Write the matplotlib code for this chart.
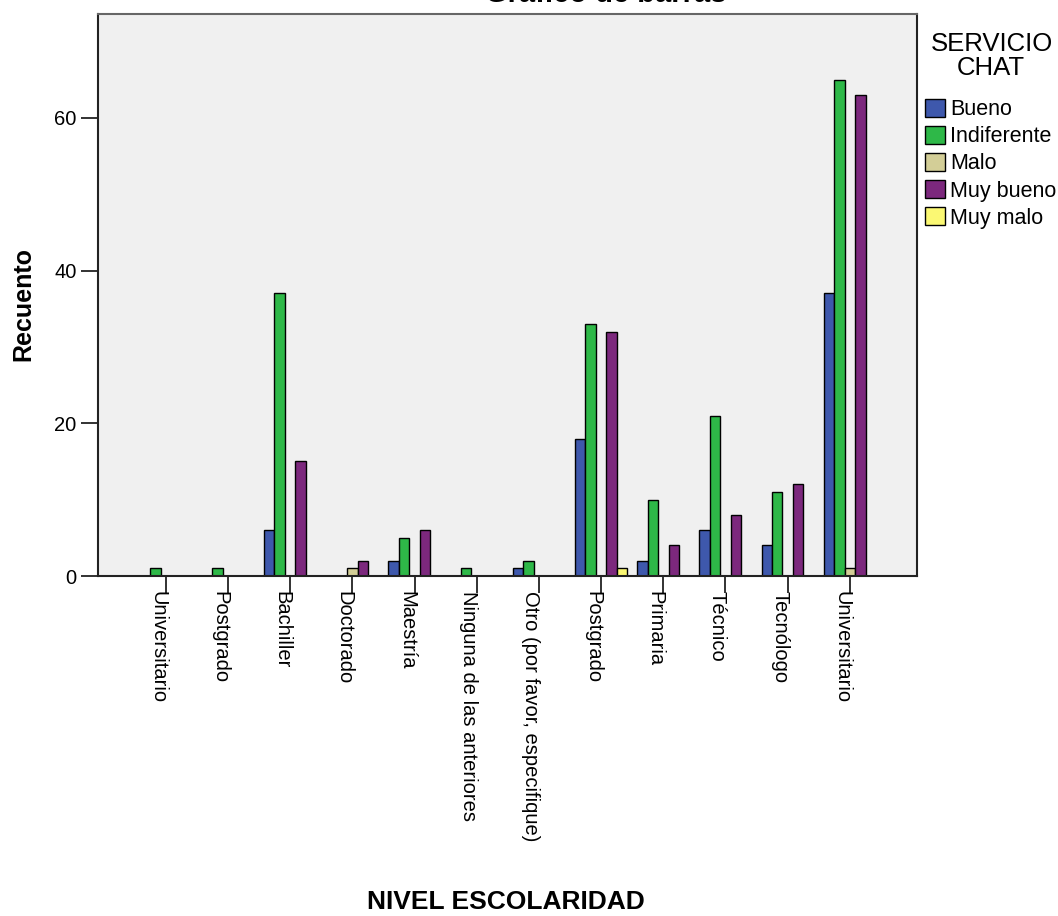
import numpy as np
import matplotlib
matplotlib.use("Agg")
import matplotlib.pyplot as plt
import matplotlib.transforms as mtransforms
from matplotlib.patches import Patch

plt.rcParams['font.family'] = ['Liberation Sans', 'DejaVu Sans']

niveles = ["Universitario", "Postgrado", "Bachiller", "Doctorado", "Maestría",
           "Ninguna de las anteriores", "Otro (por favor, especifique)",
           "Postgrado", "Primaria", "Técnico", "Tecnólogo", "Universitario"]

servicios = ["Bueno", "Indiferente", "Malo", "Muy bueno", "Muy malo"]
colores = ["#3E58AC", "#2EB848", "#D3CE97", "#7C287D", "#FBF873"]

bueno       = [0, 0, 6,  0, 2, 0, 1, 18, 2,  6,  4, 37]
indiferente = [1, 1, 37, 0, 5, 1, 2, 33, 10, 21, 11, 65]
malo        = [0, 0, 0,  1, 0, 0, 0, 0,  0,  0,  0,  1]
muy_bueno   = [0, 0, 15, 2, 6, 0, 0, 32, 4,  8,  12, 63]
muy_malo    = [0, 0, 0,  0, 0, 0, 0, 1,  0,  0,  0,  0]

series = [bueno, indiferente, malo, muy_bueno, muy_malo]

W, H = 1058, 916
fig = plt.figure(figsize=(W / 100, H / 100), dpi=100)
ax = fig.add_axes([98 / W, 1 - 576 / H, (917 - 98) / W, (576 - 14) / H])
ax.set_facecolor("#F0F0F0")

x = np.arange(len(niveles))
w = 0.168
for i, (vals, col) in enumerate(zip(series, colores)):
    pos = x + (i - 2) * w
    v = np.array(vals, dtype=float)
    mask = v > 0
    ax.bar(pos[mask], v[mask], width=w, color=col, edgecolor="black", linewidth=1.0)

ax.set_xlim(-1.09, 12.08)
ax.set_ylim(0, 73.6)
ax.set_yticks([0, 20, 40, 60])
ax.set_xticks(x)
ax.set_xticklabels(niveles, rotation=270, ha="center", va="top")
ax.tick_params(axis="both", labelsize=14.5, length=12, width=1.3, color="#222222")
ax.tick_params(axis="x", pad=-1)
shift = mtransforms.ScaledTranslation(-8 / 100, 0, fig.dpi_scale_trans)
for lab in ax.get_xticklabels():
    lab.set_transform(lab.get_transform() + shift)
for s in ax.spines.values():
    s.set_linewidth(1.5)
    s.set_color("#222222")
ax.spines["top"].set_color("#666666")

fig.text(23 / W, 1 - 304 / H, "Recuento", fontsize=18, fontweight="bold",
         rotation=90, ha="center", va="center")
fig.text(506 / W, 1 - 902 / H, "NIVEL ESCOLARIDAD", fontsize=19, fontweight="bold",
         ha="center", va="center")
# titulo cortado arriba, como en la imagen original
fig.text(606 / W, 1 - 1.5 / H, "Gráfico de barras", fontsize=21, fontweight="bold",
         ha="center", va="baseline")

fig.text(992 / W, 1 - 44 / H, "SERVICIO", fontsize=18.5, ha="center", va="center")
fig.text(991 / W, 1 - 68 / H, "CHAT", fontsize=18.5, ha="center", va="center")

handles = [Patch(facecolor=c, edgecolor="black", linewidth=1.0) for c in colores]
leg = fig.legend(handles, servicios, loc="upper left",
                 bbox_to_anchor=(925 / W, 1 - 98.5 / H), frameon=False, fontsize=15.5,
                 handlelength=0.93, handleheight=0.93,
                 handletextpad=0.23, labelspacing=0.26, borderaxespad=0,
                 borderpad=0)

fig.savefig("out.png", dpi=100)
